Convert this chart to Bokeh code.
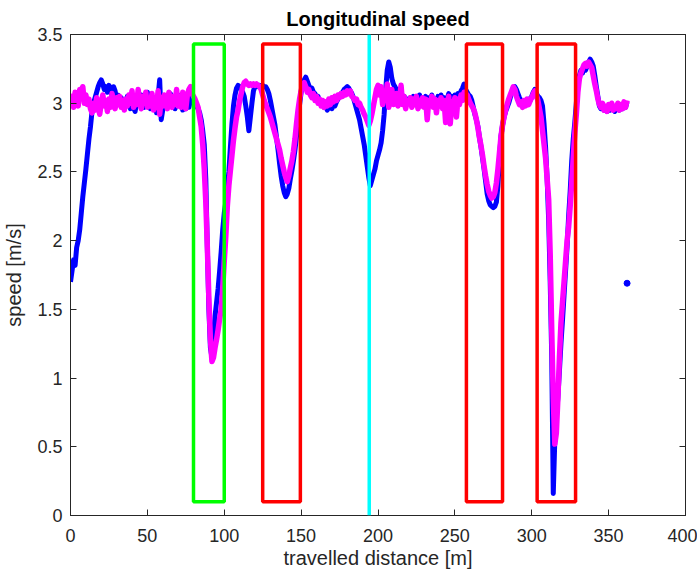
from bokeh.plotting import figure
from bokeh.models import Range1d, LinearAxis, FixedTicker, CustomJSTickFormatter, Span
from bokeh.embed import file_html
from bokeh.resources import INLINE

# travelled distance grid [m]
distance = list(range(0, 363))

# measured speed (blue)
blue_speed = [
    1.70, 1.78, 1.86, 1.82, 1.95, 2.00, 2.08, 2.20, 2.32, 2.42,
    2.52, 2.63, 2.74, 2.83, 2.94, 3.00, 3.04, 3.08, 3.12, 3.15,
    3.17, 3.14, 3.10, 3.12, 3.08, 3.13, 3.10, 3.05, 3.12, 3.09,
    3.03, 3.06, 2.99, 3.04, 2.97, 3.02, 2.98, 3.05, 3.00, 2.96,
    3.02, 2.97, 2.94, 3.00, 3.04, 2.99, 3.06, 3.01, 2.97, 3.03,
    3.08, 3.00, 2.96, 3.04, 2.99, 3.02, 2.93, 3.05, 3.17, 2.88,
    2.95, 3.02, 2.98, 3.05, 3.00, 3.07, 2.99, 3.04, 2.96, 3.02,
    3.06, 2.98, 3.03, 2.95, 3.01, 2.96, 3.04, 2.97, 3.02, 3.05,
    3.03, 3.00, 2.98, 2.96, 2.93, 2.88, 2.80, 2.70, 2.45, 1.95,
    1.50, 1.22, 1.15, 1.30, 1.45, 1.55, 1.65, 1.78, 1.92, 2.08,
    2.20, 2.28, 2.38, 2.50, 2.68, 2.85, 2.98, 3.06, 3.11, 3.13,
    3.12, 3.10, 3.08, 3.05, 2.98, 2.90, 2.80, 2.90, 3.00, 3.09,
    3.12, 3.13, 3.12, 3.13, 3.12, 3.13, 3.12, 3.12, 3.10, 3.07,
    3.02, 2.96, 2.90, 2.84, 2.75, 2.66, 2.56, 2.47, 2.40, 2.35,
    2.32, 2.34, 2.38, 2.45, 2.51, 2.58, 2.66, 2.76, 2.88, 2.99,
    3.08, 3.14, 3.17, 3.19, 3.16, 3.13, 3.10, 3.11, 3.08, 3.07,
    3.04, 3.05, 3.01, 2.99, 3.00, 2.97, 2.98, 2.95, 2.97, 2.99,
    2.96, 3.00, 2.98, 3.01, 3.03, 3.05, 3.07, 3.08, 3.10, 3.11,
    3.12, 3.11, 3.09, 3.07, 3.04, 3.00, 2.96, 2.92, 2.88, 2.82,
    2.76, 2.70, 2.62, 2.54, 2.46, 2.40, 2.44, 2.48, 2.52, 2.58,
    2.62, 2.66, 2.71, 2.80, 2.92, 3.10, 3.24, 3.30, 3.26, 3.18,
    3.14, 3.12, 3.09, 3.10, 3.06, 3.08, 3.04, 3.05, 3.02, 3.03,
    3.00, 3.04, 3.01, 3.05, 2.99, 3.03, 3.00, 3.06, 3.02, 3.04,
    3.00, 3.05, 2.98, 3.04, 3.01, 3.06, 3.00, 3.03, 2.99, 3.05,
    3.02, 3.06, 3.00, 3.04, 2.98, 3.03, 3.07, 3.01, 3.05, 3.02,
    3.06, 3.03, 3.07, 3.04, 3.09, 3.11, 3.14, 3.10, 3.08, 3.06,
    3.05, 3.02, 2.97, 2.92, 2.88, 2.83, 2.75, 2.68, 2.60, 2.52,
    2.43, 2.34, 2.29, 2.26, 2.25, 2.24, 2.25, 2.28, 2.40, 2.60,
    2.76, 2.84, 2.90, 2.94, 2.97, 3.00, 3.04, 3.08, 3.11, 3.12,
    3.10, 3.07, 3.04, 3.02, 3.00, 2.99, 3.01, 3.00, 3.03, 3.02,
    3.05, 3.08, 3.10, 3.07, 3.05, 3.04, 3.02, 2.98, 2.85, 2.68,
    2.45, 2.15, 1.70, 1.15, 0.16, 0.55, 0.72, 0.86, 1.05, 1.25,
    1.42, 1.60, 1.78, 1.96, 2.18, 2.36, 2.58, 2.74, 2.86, 3.00,
    3.14, 3.20, 3.24, 3.22, 3.26, 3.24, 3.27, 3.30, 3.32, 3.30,
    3.27, 3.20, 3.12, 3.05, 2.98, 2.96, 2.98, 2.95, 2.97, 2.94,
    2.98, 2.95, 2.99, 2.96, 2.94, 2.97, 2.99, 2.95, 2.98, 2.96,
    3.00, 2.97, 3.01,
]

# reference speed (magenta)
magenta_speed = [
    3.00, 3.05, 2.97, 3.08, 3.02, 2.98, 3.10, 3.04, 3.12, 3.00,
    3.06, 2.99, 3.03, 2.96, 2.93, 3.00, 2.95, 3.04, 2.97, 2.92,
    3.00, 3.06, 2.98, 3.02, 2.94, 3.03, 2.97, 3.07, 3.00, 2.96,
    3.04, 2.99, 3.05, 2.97, 3.02, 2.95, 3.03, 2.98, 3.06, 3.00,
    3.09, 2.97, 3.04, 2.99, 3.10, 3.01, 2.96, 3.05, 3.00, 3.08,
    2.97, 3.03, 2.98, 3.07, 2.95, 3.02, 2.97, 3.09, 2.92, 3.04,
    2.98, 3.06, 3.00, 2.96, 3.08, 3.01, 2.97, 3.05, 2.99, 3.10,
    2.98, 3.04, 2.97, 3.08, 3.00, 2.96, 3.06, 3.10, 3.12, 3.07,
    3.05, 3.03, 3.00, 2.97, 2.90, 2.83, 2.70, 2.52, 2.28, 1.95,
    1.58, 1.28, 1.12, 1.15, 1.22, 1.28, 1.35, 1.43, 1.50, 1.65,
    1.85, 2.03, 2.25, 2.40, 2.51, 2.62, 2.73, 2.82, 2.90, 2.95,
    3.02, 3.07, 3.12, 3.15, 3.16, 3.14, 3.13, 3.14, 3.13, 3.14,
    3.13, 3.14, 3.13, 3.12, 3.10, 3.06, 3.02, 2.99, 2.96, 2.93,
    2.90, 2.86, 2.82, 2.78, 2.74, 2.70, 2.66, 2.60, 2.55, 2.50,
    2.46, 2.43, 2.47, 2.53, 2.58, 2.65, 2.74, 2.85, 2.95, 3.03,
    3.09, 3.13, 3.15, 3.12, 3.08, 3.10, 3.06, 3.04, 3.07, 3.02,
    3.05, 3.00, 3.03, 2.98, 3.02, 2.97, 3.01, 2.98, 3.03, 2.99,
    3.04, 3.01, 3.05, 3.02, 3.06, 3.04, 3.07, 3.05, 3.08, 3.06,
    3.09, 3.07, 3.09, 3.05, 3.04, 3.02, 3.03, 2.99, 3.00, 2.97,
    2.95, 2.92, 2.90, 2.87, 2.84, 2.87, 2.92, 2.98, 3.04, 3.10,
    3.13, 3.06, 3.12, 2.99, 3.08, 3.02, 3.14, 2.97, 3.05, 3.10,
    2.99, 3.04, 3.07, 2.98, 3.03, 3.13, 2.99, 3.05, 2.96, 3.02,
    3.00, 3.04, 2.97, 3.03, 2.99, 3.05, 2.96, 3.02, 2.98, 3.04,
    2.97, 3.03, 2.88, 3.02, 2.99, 3.05, 2.97, 3.03, 2.93, 3.02,
    2.98, 3.04, 2.96, 3.02, 2.86, 3.00, 3.05, 2.85, 3.01, 2.97,
    3.04, 2.90, 3.03, 2.99, 3.06, 3.02, 3.08, 3.05, 3.06, 3.03,
    3.00, 2.98, 2.96, 2.93, 2.88, 2.82, 2.75, 2.69, 2.62, 2.54,
    2.47, 2.41, 2.36, 2.33, 2.31, 2.32, 2.35, 2.42, 2.52, 2.64,
    2.76, 2.84, 2.90, 2.95, 2.99, 3.03, 3.06, 3.09, 3.12, 3.10,
    3.05, 3.02, 2.99, 3.01, 2.97, 3.02, 2.98, 3.03, 2.99, 3.02,
    3.04, 3.07, 3.09, 3.06, 3.02, 2.96, 2.90, 2.80, 2.70, 2.60,
    2.45, 2.30, 1.90, 1.35, 0.85, 0.52, 0.60, 0.85, 1.15, 1.40,
    1.55, 1.70, 1.85, 2.00, 2.10, 2.25, 2.42, 2.60, 2.78, 2.92,
    3.08, 3.18, 3.22, 3.25, 3.28, 3.29, 3.27, 3.30, 3.28, 3.26,
    3.20, 3.14, 3.09, 3.03, 2.99, 2.97, 3.00, 2.95, 2.98, 2.94,
    2.99, 2.96, 3.00, 2.95, 2.98, 2.96, 3.00, 2.95, 2.99, 2.96,
    3.01, 2.97, 3.02,
]

# isolated measured sample
outlier_distance = [362]
outlier_speed = [1.69]

# highlighted segments
green_left = [80]
green_right = [100]
red_left = [125, 257.5, 303.5]
red_right = [149.5, 281, 328.5]
box_bottom = 0.1
box_top = 3.43
cyan_distance = 194.3

x_ticks = [0, 50, 100, 150, 200, 250, 300, 350, 400]
y_ticks = [0, 0.5, 1, 1.5, 2, 2.5, 3, 3.5]

FONT = "Liberation Sans"
AXC = "#262626"

p = figure(frame_width=615, frame_height=481, x_range=Range1d(0, 400), y_range=Range1d(0, 3.5),
           output_backend="svg", toolbar_location=None,
           min_border_left=0, min_border_right=12, min_border_top=0, min_border_bottom=0,
           title="Longitudinal speed")
p.grid.visible = False
p.outline_line_color = AXC
p.outline_line_width = 1
p.title.text_font = FONT
p.title.text_font_size = "20px"
p.title.text_font_style = "bold"
p.title.align = "center"
p.title.text_color = "#000000"
p.title.standoff = 10

fmt = CustomJSTickFormatter(code="return String(tick)")

def style_axis(ax, ticks, labels=True):
    ax.ticker = FixedTicker(ticks=ticks)
    ax.formatter = fmt
    ax.axis_line_color = AXC
    ax.major_tick_line_color = AXC
    ax.major_tick_in = 6
    ax.major_tick_out = 0
    ax.minor_tick_line_color = None
    ax.major_label_text_font = FONT
    ax.major_label_text_color = AXC
    ax.axis_label_text_font = FONT
    ax.axis_label_text_font_size = "20px"
    ax.axis_label_text_font_style = "normal"
    ax.axis_label_text_color = AXC
    if labels:
        ax.major_label_text_font_size = "18px"
    else:
        ax.major_label_text_color = None
        ax.major_label_text_font_size = "1px"
        ax.major_label_standoff = 0

style_axis(p.xaxis[0], x_ticks)
style_axis(p.yaxis[0], y_ticks)
p.xaxis[0].axis_label = "travelled distance [m]"
p.yaxis[0].axis_label = "speed [m/s]"
p.xaxis[0].major_label_standoff = 13
p.xaxis[0].axis_label_standoff = 2
p.xaxis[0].axis_label_text_line_height = 1.0
p.yaxis[0].major_label_standoff = 8
p.yaxis[0].axis_label_standoff = 9

top_ax = LinearAxis()
right_ax = LinearAxis()
style_axis(top_ax, x_ticks, labels=False)
style_axis(right_ax, y_ticks, labels=False)
right_ax.major_label_standoff = 9
p.add_layout(top_ax, "above")
p.add_layout(right_ax, "right")

p.line(distance, blue_speed, line_color="#0000FF", line_width=5, line_join="round")
p.scatter(outlier_distance, outlier_speed, size=6, color="#0000FF")
p.line(distance, magenta_speed, line_color="#FF00FF", line_width=5.5, line_join="round")

p.quad(left=green_left, right=green_right, bottom=box_bottom, top=box_top,
       fill_alpha=0, line_color="#00FF00", line_width=3.5)
p.quad(left=red_left, right=red_right, bottom=box_bottom, top=box_top,
       fill_alpha=0, line_color="#FF0000", line_width=3.5)
p.add_layout(Span(location=cyan_distance, dimension="height",
                  line_color="#00FFFF", line_width=3.5))

open("out.html", "w").write(file_html(p, INLINE))
